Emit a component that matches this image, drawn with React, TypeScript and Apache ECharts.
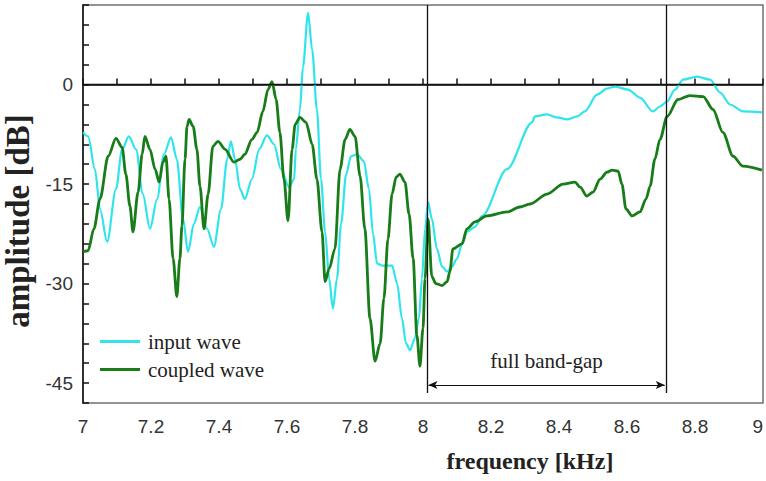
import React, { useEffect, useRef } from "react";
import * as echarts from "echarts";

const freqInput = [
  7.0, 7.015, 7.035, 7.05, 7.071, 7.097, 7.115, 7.135, 7.156, 7.176, 7.197, 7.218, 7.238, 7.259,
  7.276, 7.294, 7.309, 7.326, 7.344, 7.365, 7.385, 7.406, 7.424, 7.435, 7.447, 7.462, 7.476, 7.497,
  7.518, 7.541, 7.562, 7.582, 7.606, 7.621, 7.626, 7.638, 7.647, 7.662, 7.674, 7.688, 7.7, 7.712,
  7.724, 7.735, 7.747, 7.759, 7.774, 7.788, 7.806, 7.826, 7.841, 7.853, 7.865, 7.882, 7.909, 7.924,
  7.938, 7.95, 7.962, 7.976, 7.988, 7.997, 8.006, 8.015, 8.026, 8.041, 8.056, 8.071, 8.085, 8.1,
  8.115, 8.129, 8.153, 8.174, 8.247, 8.321, 8.329, 8.365, 8.394, 8.424, 8.453, 8.476, 8.512, 8.541,
  8.565, 8.603, 8.638, 8.676, 8.697, 8.718, 8.741, 8.765, 8.806, 8.844, 8.874, 8.903, 8.941, 8.997,
];
const dbInput = [
  -7.2, -7.8, -12.75, -18.75, -23.7, -15.75, -9.75, -7.8, -9.75, -16.5, -21.75, -17.25, -10.5, -7.95,
  -11.25, -20.25, -25.2, -21, -18.45, -21.75, -24.45, -18.75, -11.25, -8.55, -11.25, -15.75, -17.25, -14.25,
  -9.75, -7.65, -9, -12.75, -15.45, -14.25, -9.75, -3.75, 2.7, 10.8, 5.25, -3.75, -14.25, -22.2,
  -29.25, -33.75, -29.25, -21, -13.5, -10.8, -10.5, -11.55, -15.75, -22.5, -27, -27.3, -27.3, -30,
  -35.25, -39, -40.05, -38.25, -35.25, -29.25, -21.75, -17.7, -20.25, -24.75, -27.45, -28.2, -27.45, -26.25,
  -24, -22.2, -21.45, -19.8, -12.75, -5.7, -4.8, -4.5, -4.95, -5.25, -4.8, -4.05, -1.5, -0.6,
  -0.3, -0.75, -1.95, -4.05, -3.3, -2.55, -0.75, 0.75, 1.2, 0.75, -1.2, -3, -4.05, -4.2,
];

const freqCoupled = [
  7.0, 7.015, 7.032, 7.05, 7.074, 7.097, 7.115, 7.126, 7.138, 7.147, 7.162, 7.174, 7.182, 7.197,
  7.212, 7.224, 7.235, 7.244, 7.253, 7.265, 7.276, 7.285, 7.291, 7.3, 7.306, 7.312, 7.324, 7.335,
  7.344, 7.356, 7.368, 7.382, 7.397, 7.418, 7.444, 7.462, 7.476, 7.497, 7.512, 7.529, 7.544, 7.556,
  7.568, 7.579, 7.591, 7.603, 7.615, 7.624, 7.638, 7.656, 7.674, 7.688, 7.703, 7.712, 7.724, 7.741,
  7.756, 7.771, 7.785, 7.8, 7.815, 7.829, 7.844, 7.859, 7.874, 7.885, 7.897, 7.909, 7.921, 7.932,
  7.947, 7.959, 7.971, 7.982, 7.991, 8.0, 8.006, 8.015, 8.026, 8.038, 8.056, 8.071, 8.079, 8.088,
  8.115, 8.129, 8.153, 8.188, 8.247, 8.285, 8.315, 8.365, 8.412, 8.447, 8.462, 8.482, 8.5, 8.521,
  8.541, 8.556, 8.574, 8.585, 8.597, 8.615, 8.638, 8.656, 8.668, 8.682, 8.697, 8.718, 8.75, 8.785,
  8.824, 8.853, 8.882, 8.912, 8.941, 8.997,
];
const dbCoupled = [
  -25.2, -25.05, -21.75, -17.25, -10.8, -8.1, -9.45, -13.5, -18.3, -22.2, -16.2, -10.5, -7.8, -9.75,
  -12.75, -14.7, -11.7, -10.8, -17.25, -26.25, -31.95, -26.25, -21.3, -11.25, -6.3, -5.25, -6.3, -9.75,
  -15.3, -21.75, -16.5, -9.3, -8.55, -9.75, -11.7, -11.25, -10.5, -8.25, -7.2, -4.05, -0.75, 0.45,
  -2.25, -7.2, -14.25, -20.55, -9.75, -6, -4.95, -5.7, -9, -14.25, -22.2, -29.7, -27.75, -24.75,
  -12.75, -8.25, -6.75, -7.8, -13.8, -21.75, -35.25, -41.7, -39, -32.25, -23.25, -16.5, -13.95, -13.5,
  -14.7, -19.5, -26.25, -37.8, -42.45, -36.75, -29.25, -20.25, -28.95, -30, -30.3, -29.7, -28.2, -24.75,
  -24, -21.75, -20.7, -19.8, -19.2, -18.45, -18, -16.5, -15, -14.7, -15.45, -16.8, -16.2, -14.25,
  -13.2, -12.9, -13.05, -15, -18.75, -19.8, -19.2, -17.25, -15.3, -11.25, -8.25, -4.8, -2.25, -1.65,
  -1.8, -3.75, -7.2, -10.8, -12.3, -12.9,
];

const seriesNames = ["input wave", "coupled wave"];
const xTickRange = [7, 9];
const yTickRange = [-48, 12];
const bandGapEdges = [8.012, 8.715];
const bandGapLabel = "full band-gap";

export default function App() {
  const ref = useRef<HTMLDivElement>(null);
  useEffect(() => {
    if (!ref.current) return;
    const chart = echarts.init(ref.current, null, { renderer: "svg" });
    const inputData = freqInput.map((f, i) => [f, dbInput[i]]);
    const coupledData = freqCoupled.map((f, i) => [f, dbCoupled[i]]);
    const black = "#111";
    chart.setOption({
      animation: false,
      backgroundColor: "#ffffff",
      grid: {
        left: 83,
        right: 3,
        top: 5,
        bottom: 78,
        outerBoundsMode: "none",
        containLabel: false,
        show: true,
        borderColor: "#707070",
        borderWidth: 1.5,
      },
      legend: {
        data: seriesNames,
        orient: "vertical",
        left: 100,
        top: 329,
        padding: 0,
        icon: "rect",
        itemWidth: 40,
        itemHeight: 3,
        itemGap: 3,
        textStyle: { fontFamily: "Liberation Serif", fontSize: 21, color: "#222", padding: [0, 0, 0, 3], lineHeight: 25 },
      },
      xAxis: {
        type: "value",
        min: xTickRange[0],
        max: xTickRange[1],
        interval: 0.1,
        name: "frequency [kHz]",
        nameLocation: "middle",
        nameGap: 46,
        nameTextStyle: {
          fontFamily: "Liberation Serif",
          fontWeight: "bold",
          fontSize: 24,
          color: "#222",
          padding: [0, 0, 0, 214],
        },
        axisLine: { show: true, lineStyle: { color: black, width: 1.5 } },
        axisTick: { show: true, inside: true, length: 6, lineStyle: { color: black, width: 1.5 } },
        splitLine: { show: false },
        axisLabel: {
          margin: 14,
          fontFamily: "Liberation Sans",
          fontSize: 19,
          color: "#333",
          alignMaxLabel: "right",
          formatter: (v: number) => (Math.round(v * 10) % 2 === 0 ? String(Math.round(v * 10) / 10) : ""),
        },
      },
      yAxis: {
        type: "value",
        min: yTickRange[0],
        max: yTickRange[1],
        interval: 3,
        name: "amplitude [dB]",
        nameLocation: "middle",
        nameGap: 36,
        nameTextStyle: {
          fontFamily: "Liberation Serif",
          fontWeight: "bold",
          fontSize: 33,
          color: "#222",
          padding: [0, 34, 0, 0],
        },
        axisLine: { show: true, lineStyle: { color: black, width: 1.5 } },
        axisTick: { show: true, inside: true, length: 6, interval: 0, lineStyle: { color: black, width: 1.5 } },
        splitLine: { show: false },
        axisLabel: {
          interval: 0,
          margin: 10,
          fontFamily: "Liberation Sans",
          fontSize: 19,
          color: "#333",
          formatter: (v: number) => (Math.round(v) % 15 === 0 ? String(Math.round(v)) : ""),
        },
      },
      series: [
        {
          name: seriesNames[0],
          type: "line",
          data: inputData,
          symbol: "none",
          smooth: 0.3,
          smoothMonotone: "x",
          lineStyle: { color: "#30e4ec", width: 2.2 },
          itemStyle: { color: "#30e4ec" },
          z: 2,
        },
        {
          name: seriesNames[1],
          type: "line",
          data: coupledData,
          symbol: "none",
          smooth: 0.3,
          smoothMonotone: "x",
          lineStyle: { color: "#187c18", width: 2.8 },
          itemStyle: { color: "#187c18" },
          z: 3,
          markLine: {
            silent: true,
            symbol: "none",
            label: { show: false },
            lineStyle: { color: black, width: 1.3, type: "solid" },
            data: [
              { yAxis: 0 },
              [{ coord: [bandGapEdges[0], yTickRange[1]] }, { coord: [bandGapEdges[0], -46.5] }],
              [{ coord: [bandGapEdges[1], yTickRange[1]] }, { coord: [bandGapEdges[1], -46.5] }],
              [
                { coord: [bandGapEdges[0] + 0.004, -45.3], symbol: "arrow", symbolSize: [6, 9] },
                { coord: [bandGapEdges[1] - 0.004, -45.3], symbol: "arrow", symbolSize: [6, 9], lineStyle: { width: 1 } },
              ],
            ],
          },
          markPoint: {
            silent: true,
            symbol: "circle",
            symbolSize: 0,
            data: [
              {
                coord: [(bandGapEdges[0] + bandGapEdges[1]) / 2, -41.6],
                label: {
                  show: true,
                  position: "inside",
                  formatter: bandGapLabel,
                  fontFamily: "Liberation Serif",
                  fontSize: 21,
                  color: "#222",
                },
              },
            ],
          },
        },
      ],
    });
    return () => chart.dispose();
  }, []);
  return <div ref={ref} style={{ width: 766, height: 481, position: "absolute", left: 0, top: 0 }} />;
}
